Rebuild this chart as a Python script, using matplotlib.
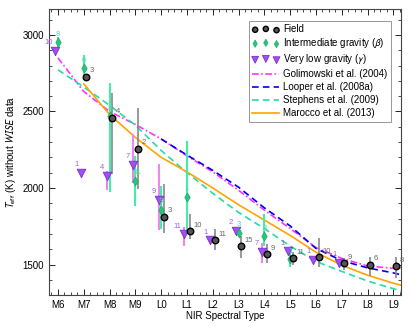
import numpy as np
import matplotlib
matplotlib.use('Agg')
from matplotlib import pyplot as plt
from matplotlib.ticker import MultipleLocator

plt.rcParams['font.family'] = ['Liberation Sans', 'DejaVu Sans']
plt.rcParams['mathtext.fontset'] = 'stixsans'

tick_labels = ['M6', 'M7', 'M8', 'M9', 'L0', 'L1', 'L2', 'L3', 'L4',
               'L5', 'L6', 'L7', 'L8', 'L9']

# field objects
field_spt = [7.1, 8.1, 9.1, 10.1, 11.1, 12.1, 13.1, 14.1, 15.1, 16.1, 17.1, 18.1, 19.1]
field_teff = [2726, 2459, 2257, 1813, 1716, 1657, 1618, 1566, 1540, 1546, 1507, 1500, 1487]
field_lo = [20, 365, 267, 104, 52, 65, 78, 59, 40, 65, 46, 72, 78]
field_hi = [20, 163, 267, 215, 117, 78, 65, 65, 40, 124, 33, 46, 59]
field_n = [3, 4, 2, 3, 10, 11, 15, 9, 11, 10, 9, 6, 8]

# intermediate gravity (beta)
beta_spt = [6, 7, 8, 9, 10, 11, 13, 14, 15]
beta_teff = [2954, 2785, 2472, 2048, 1859, 1944, 1709, 1683, 1533]
beta_lo = [30, 78, 496, 163, 124, 241, 30, 59, 52]
beta_hi = [30, 85, 215, 163, 156, 365, 30, 150, 46]
beta_n = [8, 6, 8, 11, 3, 1, 3, 3, 1]

# very low gravity (gamma)
gam_spt = [5.9, 6.9, 7.9, 8.9, 9.9, 10.9, 11.9, 12.9, 13.9, 14.9, 15.9, 16.9]
gam_teff = [2896, 2100, 2080, 2152, 1924, 1696, 1657, 1716, 1579, 1585, 1527, 1507]
gam_lo = [0, 0, 91, 117, 196, 72, 0, 20, 72, 0, 0, 0]
gam_hi = [0, 0, 33, 202, 235, 46, 0, 20, 59, 0, 0, 0]
gam_n = [10, 1, 4, 7, 9, 11, 1, 2, 7, 1, 1, 1]

# literature relations
gol_spt = [6, 7, 8, 9, 10, 11, 12, 13, 14, 15, 16, 17, 18, 19, 19.4]
gol_teff = [2850, 2630, 2500, 2415, 2320, 2210, 2105, 1985, 1855, 1735, 1610, 1540, 1490, 1475, 1480]
loo_spt = [10, 11, 12, 13, 14, 15, 16, 17, 18, 19, 19.4]
loo_teff = [2320, 2215, 2115, 2005, 1870, 1752, 1605, 1525, 1478, 1445, 1428]
ste_spt = [6, 7, 8, 9, 10, 11, 12, 13, 14, 15, 16, 17, 18, 19, 19.4]
ste_teff = [2772, 2660, 2540, 2410, 2245, 2100, 1965, 1840, 1735, 1620, 1520, 1455, 1392, 1342, 1322]
mar_spt = [7, 8, 9, 10, 11, 12, 13, 14, 15, 16, 17, 18, 19, 19.4]
mar_teff = [2680, 2480, 2330, 2200, 2105, 2000, 1890, 1790, 1690, 1580, 1495, 1430, 1378, 1360]

fig, ax = plt.subplots(figsize=(4.11, 3.29), dpi=100)
fig.subplots_adjust(left=0.119, right=0.976, bottom=0.103, top=0.973)

l_gol, = ax.plot(gol_spt, gol_teff, color='#ff33ff', lw=1.2, ls=(0, (4, 1.5, 1, 1.5)),
                 label='Golimowski et al. (2004)', zorder=2)
l_loo, = ax.plot(loo_spt, loo_teff, color='#0000ee', lw=1.2, ls=(0, (4, 2.5)),
                 label='Looper et al. (2008a)', zorder=2)
l_ste, = ax.plot(ste_spt, ste_teff, color='#22ddaa', lw=1.2, ls=(0, (4, 2.5)),
                 label='Stephens et al. (2009)', zorder=2)
l_mar, = ax.plot(mar_spt, mar_teff, color='#ffa500', lw=1.2,
                 label='Marocco et al. (2013)', zorder=2)

ax.errorbar(gam_spt, gam_teff, yerr=[gam_lo, gam_hi], fmt='none',
            ecolor='#ee88ee', elinewidth=1.5, zorder=3)
ax.errorbar(beta_spt, beta_teff, yerr=[beta_lo, beta_hi], fmt='none',
            ecolor='#44eeaa', elinewidth=1.5, zorder=3)
ax.errorbar(field_spt, field_teff, yerr=[field_lo, field_hi], fmt='none',
            ecolor='#888888', elinewidth=1.2, zorder=3)

m_gam = ax.scatter(gam_spt, gam_teff, marker='v', s=38, color='#9f4ff2',
                   edgecolors='#7a2fd0', linewidths=0.6, zorder=4,
                   label='Very low gravity ($\\gamma$)')
m_beta = ax.scatter(beta_spt, beta_teff, marker='d', s=22, color='#22c97a',
                    edgecolors='#1aa060', linewidths=0.4, zorder=4,
                    label='Intermediate gravity ($\\beta$)')
m_field = ax.scatter(field_spt, field_teff, marker='o', s=22, color='#555555',
                     edgecolors='black', linewidths=1.0, zorder=5, label='Field')

for x, y, n in zip(field_spt, field_teff, field_n):
    ax.annotate(str(n), (x, y), xytext=(2.5, 3.5), textcoords='offset points',
                fontsize=5.5, color='#666666', zorder=6)
for x, y, n in zip(beta_spt, beta_teff, beta_n):
    ax.annotate(str(n), (x, y), xytext=(-1.5, 4.5), textcoords='offset points',
                fontsize=5.5, color='#55dd99', zorder=6)
for x, y, n in zip(gam_spt, gam_teff, gam_n):
    ax.annotate(str(n), (x, y), xytext=(-2, 5), textcoords='offset points',
                fontsize=5.5, color='#a060e0', ha='right', zorder=6)

ax.set_xlim(5.65, 19.3)
ax.set_ylim(1300, 3170)
ax.set_xticks(range(6, 20), labels=tick_labels)
ax.set_yticks([1500, 2000, 2500, 3000])
ax.xaxis.set_minor_locator(MultipleLocator(0.25))
ax.yaxis.set_minor_locator(MultipleLocator(100))
ax.tick_params(which='both', direction='in', top=True, right=True, labelsize=7)
ax.tick_params(which='major', length=4, width=0.6)
ax.tick_params(which='minor', length=2, width=0.5)
for s in ax.spines.values():
    s.set_linewidth(0.8)
    s.set_color('#444444')

ax.set_xlabel('NIR Spectral Type', fontsize=7, labelpad=1)
ax.set_ylabel('$T_{\\rm eff}$ (K) without $WISE$ data', fontsize=7, labelpad=3)

leg = ax.legend(handles=[m_field, m_beta, m_gam, l_gol, l_loo, l_ste, l_mar],
                loc='upper right', fontsize=7, scatterpoints=3, fancybox=False,
                edgecolor='#888888', framealpha=1, borderpad=0.35,
                labelspacing=0.3, handlelength=2.8, handletextpad=0.4,
                markerscale=0.8, bbox_to_anchor=(0.985, 0.975))
leg.get_frame().set_linewidth(0.6)

plt.savefig('out.png', dpi=100)
